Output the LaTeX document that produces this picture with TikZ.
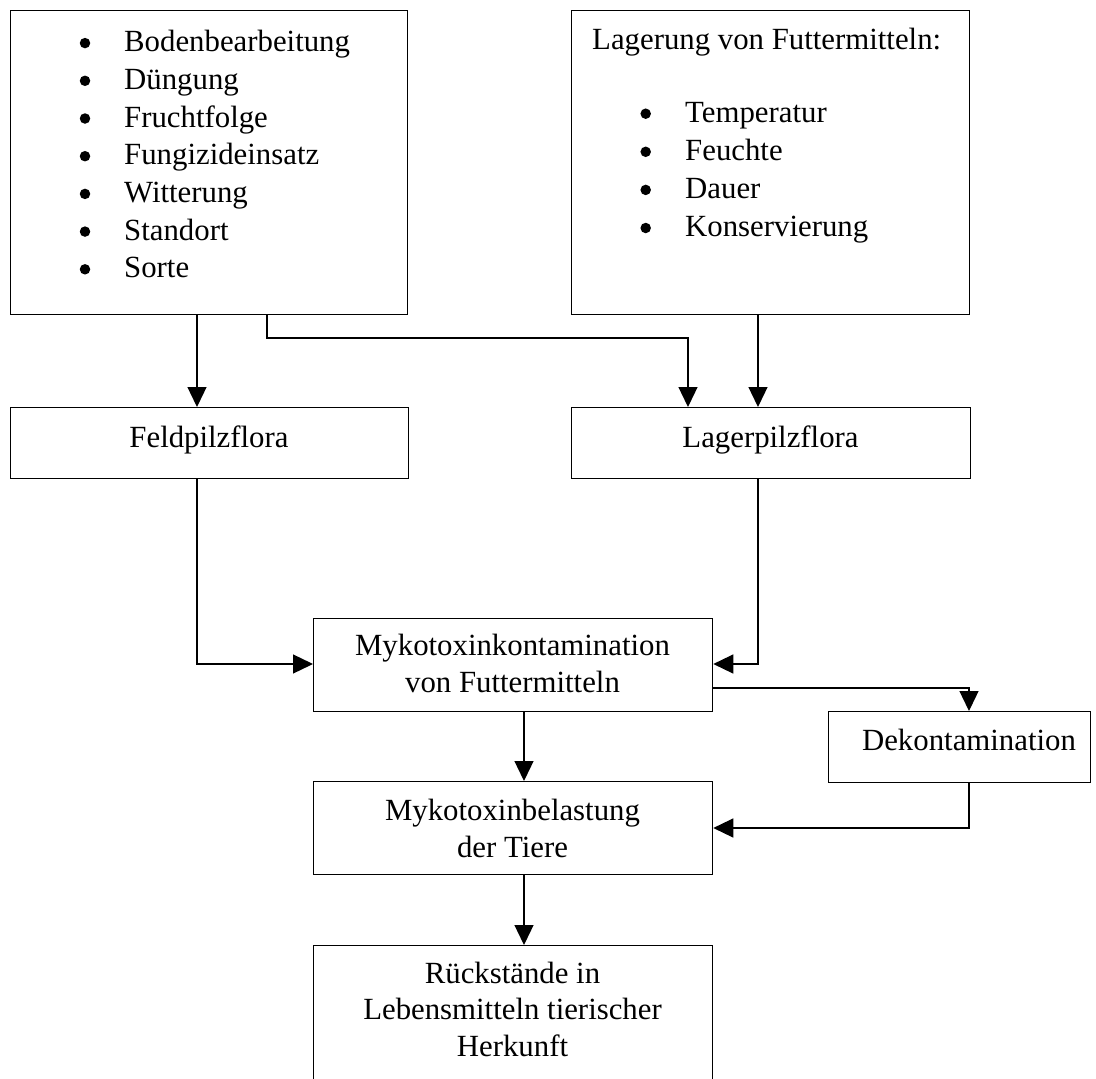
\documentclass[tikz,border=0pt]{standalone}
\usepackage{fontspec}
\setmainfont{Liberation Serif}
\usetikzlibrary{arrows.meta}
\begin{document}
\begin{tikzpicture}[x=1pt,y=-1pt,
  box/.style={draw, line width=1.3pt, rectangle, inner sep=0pt, anchor=north west},
  txt/.style={anchor=base west, inner sep=0pt, font=\fontsize{30.8}{37.7}\selectfont},
  ctxt/.style={anchor=base, inner sep=0pt, font=\fontsize{30.8}{37.7}\selectfont},
  bul/.style={circle, fill, draw=none, inner sep=0pt, minimum size=10.5pt},
  conn/.style={line width=1.3pt, -{Triangle[length=20pt,width=19pt]}}]
\useasboundingbox (0,0) rectangle (1096,1079);
\clip (0,0) rectangle (1096,1079);
\fill[white] (0,0) rectangle (1096,1079);

% boxes
\node[box, minimum width=397pt, minimum height=304pt] (A) at (10,10) {};
\node[box, minimum width=398pt, minimum height=304pt] (B) at (571,10) {};
\node[box, minimum width=398pt, minimum height=71pt] (Feld) at (10,407) {};
\node[box, minimum width=399pt, minimum height=71pt] (Lager) at (571,407) {};
\node[box, minimum width=399pt, minimum height=93pt] (Myko) at (313,618) {};
\node[box, minimum width=262pt, minimum height=71pt] (Dekon) at (828,711) {};
\node[box, minimum width=399pt, minimum height=93pt] (Bel) at (313,781) {};
\node[box, minimum width=399pt, minimum height=160pt] (Rueck) at (313,945) {};

% texts box A
\foreach \t [count=\i] in {Bodenbearbeitung, Düngung, Fruchtfolge, Fungizideinsatz, Witterung, Standort, Sorte} {
  \node[bul] (ab\i) at (85,{51.7-8.6+37.7*(\i-1)}) {};
  \node[txt] (at\i) at (124,{51.7+37.7*(\i-1)}) {\t};
}
% texts box B
\node[txt] (bh) at (592,49.3) {Lagerung von Futtermitteln:};
\foreach \t [count=\i] in {Temperatur, Feuchte, Dauer, Konservierung} {
  \node[bul] (bb\i) at (645.7,{122.3-8.6+38.1*(\i-1)}) {};
  \node[txt] (bt\i) at (685,{122.3+38.1*(\i-1)}) {\t};
}
\node[ctxt] (tfeld) at (209,447) {Feldpilzflora};
\node[ctxt] (tlager) at (770.5,447) {Lagerpilzflora};
\node[ctxt] (tmyko1) at (512.5,655.5) {Mykotoxinkontamination};
\node[ctxt] (tmyko2) at (512.5,692) {von Futtermitteln};
\node[ctxt] (tdekon) at (969,750) {Dekontamination};
\node[ctxt] (tbel1) at (512.5,820) {Mykotoxinbelastung};
\node[ctxt] (tbel2) at (512.5,857) {der Tiere};
\node[ctxt] (tr1) at (512.5,983) {Rückstände in};
\node[ctxt] (tr2) at (512.5,1019.5) {Lebensmitteln tierischer};
\node[ctxt] (tr3) at (512.5,1056) {Herkunft};

% helper coordinates
\coordinate (x197) at (197,0);
\coordinate (x267) at (267,0);
\coordinate (x688) at (688,0);
\coordinate (x758) at (758,0);
\coordinate (x524) at (524,0);
\coordinate (x969) at (969,0);
\coordinate (y338) at (0,338);
\coordinate (y664) at (0,664);
\coordinate (y688) at (0,688);
\coordinate (y828) at (0,828);

% connectors
\draw[conn] (A.south -| x197) -- (Feld.north -| x197);
\draw[conn] (A.south -| x267) -- (x267 |- y338) -| (Lager.north -| x688);
\draw[conn] (B.south -| x758) -- (Lager.north -| x758);
\draw[conn] (Feld.south -| x197) |- (Myko.west |- y664);
\draw[conn] (Lager.south -| x758) |- (Myko.east |- y664);
\draw[conn] (Myko.east |- y688) -| (Dekon.north -| x969);
\draw[conn] (Myko.south -| x524) -- (Bel.north -| x524);
\draw[conn] (Dekon.south -| x969) |- (Bel.east |- y828);
\draw[conn] (Bel.south -| x524) -- (Rueck.north -| x524);
\end{tikzpicture}
\end{document}
